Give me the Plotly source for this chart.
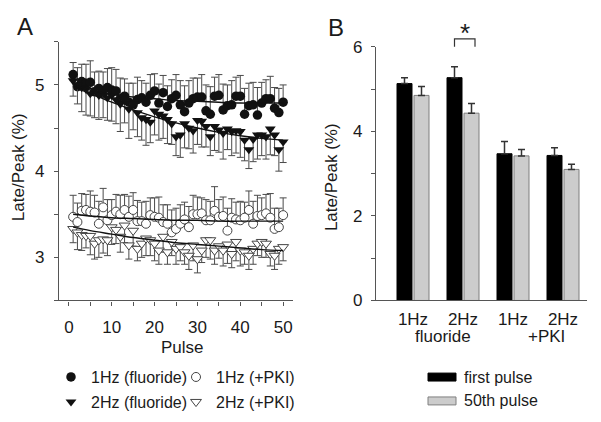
import plotly.graph_objects as go

# ---------------- Panel A data ----------------
pulses = list(range(1, 51))

hz1_fluoride = [5.12, 4.98, 5.04, 5.02, 5.03, 4.92, 4.96, 4.90, 4.97, 4.94,
                4.93, 4.84, 4.87, 4.80, 4.77, 4.83, 4.85, 4.80, 4.88, 4.93,
                4.79, 4.91, 4.75, 4.84, 4.88, 4.77, 4.69, 4.79, 4.84, 4.86,
                4.86, 4.70, 4.66, 4.87, 4.88, 4.71, 4.76, 4.77, 4.87, 4.87,
                4.66, 4.76, 4.77, 4.65, 4.79, 4.84, 4.84, 4.73, 4.68, 4.80]
hz1_fluoride_err = [0.14, 0.22, 0.20, 0.22, 0.25, 0.23, 0.20, 0.25, 0.22, 0.26,
                    0.25, 0.24, 0.20, 0.22, 0.25, 0.26, 0.20, 0.22, 0.24, 0.20,
                    0.22, 0.20, 0.24, 0.22, 0.24, 0.28, 0.30, 0.26, 0.24, 0.22,
                    0.26, 0.30, 0.32, 0.22, 0.24, 0.30, 0.24, 0.28, 0.22, 0.24,
                    0.30, 0.26, 0.26, 0.32, 0.24, 0.22, 0.26, 0.24, 0.28, 0.20]

hz2_fluoride = [5.05, 5.00, 4.97, 4.95, 4.90, 4.94, 4.88, 4.92, 4.85, 4.88,
                4.83, 4.78, 4.82, 4.72, 4.78, 4.68, 4.62, 4.60, 4.57, 4.70,
                4.66, 4.64, 4.60, 4.55, 4.40, 4.42, 4.55, 4.50, 4.47, 4.59,
                4.58, 4.52, 4.40, 4.52, 4.48, 4.44, 4.49, 4.46, 4.47, 4.46,
                4.36, 4.25, 4.37, 4.42, 4.42, 4.40, 4.49, 4.42, 4.25, 4.34]
hz2_fluoride_err = [0.18, 0.22, 0.28, 0.30, 0.26, 0.32, 0.28, 0.30, 0.26, 0.30,
                    0.28, 0.32, 0.26, 0.34, 0.30, 0.28, 0.26, 0.30, 0.24, 0.28,
                    0.30, 0.26, 0.28, 0.24, 0.22, 0.26, 0.28, 0.24, 0.26, 0.28,
                    0.30, 0.24, 0.22, 0.28, 0.26, 0.30, 0.24, 0.28, 0.26, 0.30,
                    0.24, 0.22, 0.26, 0.28, 0.24, 0.26, 0.30, 0.24, 0.25, 0.24]

hz1_pki = [3.47, 3.41, 3.54, 3.55, 3.53, 3.52, 3.39, 3.58, 3.43, 3.49,
           3.53, 3.50, 3.55, 3.47, 3.55, 3.42, 3.42, 3.39, 3.49, 3.47,
           3.46, 3.41, 3.39, 3.29, 3.33, 3.39, 3.44, 3.35, 3.50, 3.50,
           3.51, 3.43, 3.43, 3.54, 3.47, 3.48, 3.31, 3.46, 3.44, 3.43,
           3.46, 3.55, 3.39, 3.48, 3.49, 3.51, 3.46, 3.33, 3.35, 3.49]
hz1_pki_err = [0.25, 0.22, 0.20, 0.18, 0.24, 0.20, 0.26, 0.22, 0.24, 0.18,
               0.20, 0.22, 0.18, 0.24, 0.20, 0.24, 0.22, 0.26, 0.20, 0.22,
               0.24, 0.20, 0.22, 0.26, 0.24, 0.22, 0.20, 0.24, 0.22, 0.20,
               0.18, 0.24, 0.22, 0.28, 0.20, 0.22, 0.26, 0.22, 0.20, 0.22,
               0.18, 0.22, 0.26, 0.24, 0.20, 0.22, 0.28, 0.24, 0.22, 0.20]

hz2_pki = [3.33, 3.29, 3.26, 3.25, 3.25, 3.16, 3.20, 3.21, 3.20, 3.35,
           3.32, 3.24, 3.37, 3.14, 3.31, 3.10, 3.16, 3.22, 3.20, 3.16,
           3.08, 3.24, 3.06, 3.18, 3.10, 3.12, 3.06, 3.02, 3.14, 2.98,
           3.08, 3.20, 3.20, 3.08, 3.13, 3.08, 3.15, 3.04, 3.18, 3.08,
           3.06, 3.02, 3.10, 3.16, 3.18, 3.16, 3.04, 3.02, 3.10, 3.12]
hz2_pki_err = [0.16, 0.20, 0.18, 0.14, 0.22, 0.18, 0.20, 0.16, 0.18, 0.20,
               0.16, 0.18, 0.20, 0.16, 0.18, 0.14, 0.16, 0.20, 0.18, 0.20,
               0.16, 0.18, 0.14, 0.16, 0.18, 0.16, 0.14, 0.16, 0.18, 0.16,
               0.14, 0.20, 0.22, 0.16, 0.14, 0.18, 0.22, 0.16, 0.22, 0.18,
               0.14, 0.16, 0.18, 0.14, 0.18, 0.16, 0.14, 0.16, 0.18, 0.16]

# fitted curves, read at selected pulses
fit_pulses = [1, 5, 10, 15, 20, 25, 30, 35, 40, 45, 50]
fit_hz1_fluoride = [5.00, 4.94, 4.89, 4.86, 4.84, 4.82, 4.81, 4.80, 4.79, 4.79, 4.79]
fit_hz2_fluoride = [4.98, 4.90, 4.80, 4.71, 4.63, 4.56, 4.50, 4.45, 4.41, 4.38, 4.36]
fit_hz1_pki = [3.50, 3.48, 3.46, 3.45, 3.44, 3.43, 3.43, 3.42, 3.42, 3.42, 3.42]
fit_hz2_pki = [3.35, 3.31, 3.27, 3.23, 3.20, 3.17, 3.15, 3.13, 3.11, 3.09, 3.08]

# ---------------- Panel B data ----------------
groups = [0, 1, 2, 3]
group_ticks = ["1Hz", "2Hz", "1Hz", "2Hz"]
first_pulse = [5.13, 5.27, 3.47, 3.43]
first_pulse_err = [0.14, 0.26, 0.29, 0.18]
fiftieth_pulse = [4.85, 4.43, 3.42, 3.10]
fiftieth_pulse_err = [0.21, 0.23, 0.15, 0.12]

# ---------------- helpers ----------------
W, H = 601, 422
FONT = "Liberation Sans, Arial, sans-serif"
TXT = "#1a1a1a"
AX = "#555555"

# the page photograph maps layout pixel y to picture row 7 + 0.96*y;
# positions below are given as picture rows and converted back.
Y_OFF, Y_SCALE = 7.0, 0.96


def px(xp):
    return xp / W


def py(yp):
    return 1 - ((yp - Y_OFF) / Y_SCALE) / H


def zeros(a):
    return [0 for _ in a]


fig = go.Figure()

ERR_COL = "#4a4a4a"

# Panel A scatter series
series = [
    ("1Hz (fluoride)", hz1_fluoride, hz1_fluoride_err, "up",
     dict(symbol="circle", size=9.5, color="#111111", line=dict(width=0)), "legend"),
    ("1Hz (+PKI)", hz1_pki, hz1_pki_err, "up",
     dict(symbol="circle", size=9, color="white", line=dict(width=1, color="#444444")), "legend2"),
    ("2Hz (fluoride)", hz2_fluoride, hz2_fluoride_err, "down",
     dict(symbol="triangle-down", size=9.5, color="#111111", line=dict(width=0)), "legend3"),
    ("2Hz (+PKI)", hz2_pki, hz2_pki_err, "down",
     dict(symbol="triangle-down", size=9.5, color="white", line=dict(width=1, color="#444444")), "legend4"),
]
for name, vals, err, direction, marker, leg in series:
    if direction == "up":
        ey = dict(type="data", symmetric=False, array=err, arrayminus=zeros(err),
                  color=ERR_COL, thickness=1, width=3.5)
    else:
        ey = dict(type="data", symmetric=False, array=zeros(err), arrayminus=err,
                  color=ERR_COL, thickness=1, width=3.5)
    fig.add_trace(go.Scatter(x=pulses, y=vals, mode="markers", name=name,
                             marker=marker, error_y=ey, legend=leg,
                             xaxis="x", yaxis="y", cliponaxis=False))

for fit in [fit_hz1_fluoride, fit_hz2_fluoride, fit_hz1_pki, fit_hz2_pki]:
    fig.add_trace(go.Scatter(x=fit_pulses, y=fit, mode="lines",
                             line=dict(color="#111111", width=1.4, shape="spline"),
                             showlegend=False, hoverinfo="skip",
                             xaxis="x", yaxis="y"))

# Panel B bars
fig.add_trace(go.Bar(x=groups, y=first_pulse, width=0.3, offset=-0.32,
                     marker=dict(color="#000000", line=dict(color="#000000", width=1)),
                     error_y=dict(type="data", symmetric=False, array=first_pulse_err,
                                  arrayminus=zeros(first_pulse_err),
                                  color="#333333", thickness=1.5, width=3.5),
                     showlegend=False, xaxis="x2", yaxis="y2"))
fig.add_trace(go.Bar(x=groups, y=fiftieth_pulse, width=0.3, offset=0.02,
                     marker=dict(color="#cccccc", line=dict(color="#7f7f7f", width=1)),
                     error_y=dict(type="data", symmetric=False, array=fiftieth_pulse_err,
                                  arrayminus=zeros(fiftieth_pulse_err),
                                  color="#333333", thickness=1.5, width=3.5),
                     showlegend=False, xaxis="x2", yaxis="y2"))

axis_common = dict(showline=True, linecolor=AX, linewidth=1.2, ticks="outside",
                   tickcolor=AX, tickwidth=1.2, ticklen=4, showgrid=False,
                   zeroline=False, tickfont=dict(family=FONT, size=17, color=TXT))

leg_common = dict(orientation="h", xanchor="left", yanchor="middle",
                  bgcolor="rgba(0,0,0,0)", borderwidth=0,
                  font=dict(family=FONT, size=16, color=TXT),
                  itemwidth=30, tracegroupgap=0)

fig.update_layout(
    width=W, height=H,
    autosize=False,
    margin=dict(l=0, r=0, t=0, b=0),
    paper_bgcolor="white", plot_bgcolor="white",
    font=dict(family=FONT, color=TXT),
    xaxis=dict(domain=[px(59), px(293)], range=[-2.3, 52.3], tickvals=[0, 10, 20, 30, 40, 50],
               anchor="y", minor=dict(dtick=5, tick0=0, ticks="outside", ticklen=4,
                                      tickcolor=AX, tickwidth=1.2),
               ticklabelstandoff=7, **axis_common),
    yaxis=dict(domain=[py(300), py(40)], range=[2.5, 5.5], tickvals=[3, 4, 5],
               anchor="x", minor=dict(dtick=0.5, tick0=2.5, ticks="outside", ticklen=4,
                                      tickcolor=AX, tickwidth=1.2),
               ticklabelstandoff=6, **axis_common),
    xaxis2=dict(domain=[px(376), px(587)], range=[-0.74, 3.48], tickvals=groups,
                ticktext=group_ticks, anchor="y2", showline=True, linecolor=AX,
                linewidth=1.2, ticks="", showgrid=False, zeroline=False,
                ticklabelstandoff=3,
                tickfont=dict(family=FONT, size=17, color=TXT)),
    yaxis2=dict(domain=[py(300), py(45)], range=[0, 6], tickvals=[0, 2, 4, 6],
                anchor="x2", minor=dict(dtick=1, tick0=0, ticks="outside", ticklen=4,
                                        tickcolor=AX, tickwidth=1.2),
                ticklabelstandoff=5, **axis_common),
    barmode="overlay",
    legend=dict(x=px(51), y=py(377), **leg_common),
    legend2=dict(x=px(176), y=py(377), **leg_common),
    legend3=dict(x=px(51), y=py(402), **leg_common),
    legend4=dict(x=px(176), y=py(402), **leg_common),
)


def label(text, x, y, size=17, xref="paper", xanchor="center", angle=0):
    return dict(text=text, x=x, y=y, xref=xref, yref="paper", xanchor=xanchor,
                yanchor="middle", textangle=angle, showarrow=False,
                font=dict(family=FONT, size=size, color=TXT))


ann = [
    label("A", px(25), py(25), size=24),
    label("B", px(336), py(26), size=24),
    label("Late/Peak (%)", px(18), py(166), angle=-90),
    label("Late/Peak (%)", px(331), py(176), angle=-90),
    label("Pulse", px(182), py(347)),
    label("fluoride", 0.59, py(336), xref="x2"),
    label("+PKI", 2.66, py(336), xref="x2"),
    label("*", 1.03, py(31), size=26, xref="x2"),
    label("first pulse", px(462), py(377), size=16, xanchor="left"),
    label("50th pulse", px(462), py(401), size=16, xanchor="left"),
]
fig.update_layout(annotations=ann)

shapes = [
    # significance bracket
    dict(type="path", xref="x2", yref="paper",
         path="M 0.83,%f L 0.83,%f L 1.24,%f L 1.24,%f" % (py(45), py(37), py(37), py(45)),
         line=dict(color="#333333", width=1.2)),
    # legend swatches for panel B
    dict(type="rect", xref="paper", yref="paper", x0=px(428), x1=px(456),
         y0=py(381), y1=py(373), fillcolor="#000000", line=dict(color="#000000", width=1)),
    dict(type="rect", xref="paper", yref="paper", x0=px(428), x1=px(456),
         y0=py(405), y1=py(397), fillcolor="#cccccc", line=dict(color="#7f7f7f", width=1)),
]
fig.update_layout(shapes=shapes)

fig.write_html("out.html", config=dict(displayModeBar=False),
               post_script="document.body.style.margin='0';document.body.style.overflow='hidden';")
